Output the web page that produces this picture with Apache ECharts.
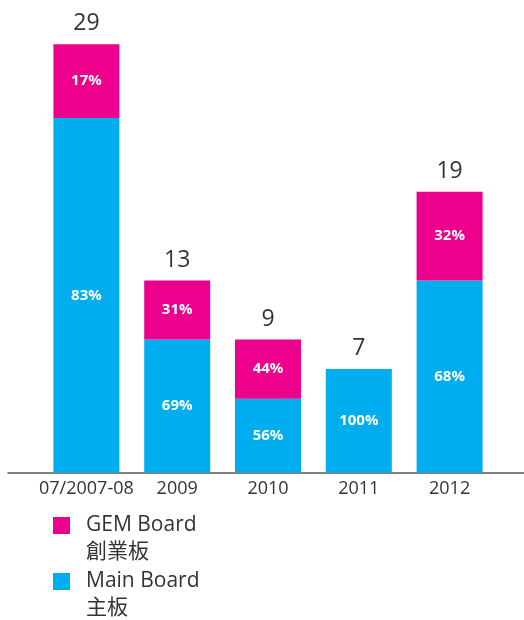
<!DOCTYPE html>
<html>
<head>
<meta charset="utf-8">
<script src="https://cdn.jsdelivr.net/npm/echarts@6/dist/echarts.min.js"></script>
<style>
  html, body { margin: 0; padding: 0; background: #fff; }
  #chart { width: 524px; height: 620px; }
</style>
</head>
<body>
<div id="chart"></div>
<script>
var categories = ["07/2007-08", "2009", "2010", "2011", "2012"];
var mainBoard = [24, 9, 5, 7, 13];
var gemBoard = [5, 4, 4, 0, 6];
var seriesNames = ["GEM Board", "Main Board"];
var seriesNamesZh = ["創業板", "主板"];

var totals = categories.map(function (c, i) { return mainBoard[i] + gemBoard[i]; });
var font = "'Open Sans', 'Noto Sans CJK TC', sans-serif";
var squareIcon = "path://M0,0h17v17h-17z";

function pct(values) {
  return function (p) {
    var v = values[p.dataIndex];
    if (!v) return "";
    return Math.round(v / totals[p.dataIndex] * 100) + "%";
  };
}

function legendFor(i, top) {
  return {
    data: [seriesNames[i]],
    orient: "vertical",
    left: 48,
    top: top,
    icon: squareIcon,
    itemWidth: 39,
    itemHeight: 17,
    itemGap: 0,
    // 前面加空行，让图标对齐第一行文字
    formatter: function (name) { return "\n" + name + "\n" + seriesNamesZh[i]; },
    textStyle: { color: "#333", fontSize: 21, lineHeight: 27, fontFamily: font }
  };
}

var chart = echarts.init(document.getElementById("chart"));
chart.setOption({
  animation: false,
  textStyle: { fontFamily: font },
  grid: [
    { left: 41, right: 29, top: 29.4, bottom: 147.5 },
    // 底线：比柱子区域更宽
    { left: 8, right: 0, top: 29.4, bottom: 147.5 }
  ],
  xAxis: [
    {
      type: "category",
      data: categories,
      gridIndex: 0,
      axisLine: { show: false },
      axisTick: { show: false },
      axisLabel: { color: "#333", fontSize: 18, margin: 7, interval: 0, fontFamily: font }
    },
    {
      type: "value",
      gridIndex: 1,
      axisLine: { show: true, onZero: false, lineStyle: { color: "#555", width: 1.5 } },
      axisTick: { show: false },
      axisLabel: { show: false },
      splitLine: { show: false }
    }
  ],
  yAxis: [
    { type: "value", gridIndex: 0, min: 0, max: 30, show: false },
    { type: "value", gridIndex: 1, show: false }
  ],
  legend: [legendFor(0, 480), legendFor(1, 536)],
  series: [
    {
      name: seriesNames[1],
      type: "bar",
      stack: "total",
      barWidth: 66,
      data: mainBoard,
      itemStyle: { color: "#00AEEF" },
      label: {
        show: true,
        position: "inside",
        color: "#fff",
        fontSize: 15,
        fontWeight: "bold",
        fontFamily: font,
        formatter: pct(mainBoard)
      }
    },
    {
      name: seriesNames[0],
      type: "bar",
      stack: "total",
      barWidth: 66,
      data: gemBoard,
      itemStyle: { color: "#EC008C" },
      label: {
        show: true,
        position: "inside",
        color: "#fff",
        fontSize: 15,
        fontWeight: "bold",
        fontFamily: font,
        formatter: pct(gemBoard)
      }
    },
    {
      // 顶部合计数字
      name: "total",
      type: "bar",
      stack: "total",
      barWidth: 66,
      data: totals.map(function () { return 0; }),
      itemStyle: { color: "transparent" },
      label: {
        show: true,
        position: "top",
        distance: 9,
        color: "#333",
        fontSize: 23,
        fontFamily: font,
        formatter: function (p) { return totals[p.dataIndex]; }
      }
    }
  ]
});
</script>
</body>
</html>
